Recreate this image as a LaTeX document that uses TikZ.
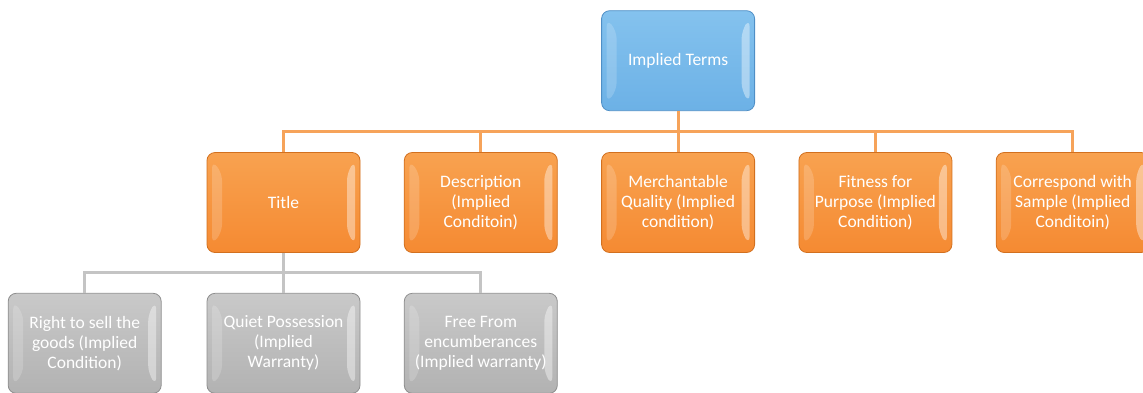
\documentclass[tikz,border=0pt]{standalone}
\usepackage{fontspec}
\setmainfont{Carlito}
\usepackage{tikz}
\usetikzlibrary{positioning,calc}
\definecolor{termBlue}{HTML}{6CB1E6}
\definecolor{termBlueTop}{HTML}{84C2EE}
\definecolor{termBlueEdge}{HTML}{4F8FC6}
\definecolor{termOrange}{HTML}{F58A32}
\definecolor{termOrangeTop}{HTML}{F8A250}
\definecolor{termOrangeEdge}{HTML}{D2701F}
\definecolor{termGrey}{HTML}{B2B2B2}
\definecolor{termGreyTop}{HTML}{C9C9C9}
\definecolor{termGreyEdge}{HTML}{8E8E8E}
\definecolor{busOrange}{HTML}{F6A35A}
\definecolor{busGrey}{HTML}{C4C4C4}
\tikzset{
  bevel/.style={rounded corners=8pt, line width=0.8pt, minimum width=153pt, minimum height=100pt,
    inner sep=2pt, align=center, text=white, font=\fontsize{17.5}{20}\selectfont,
    path picture={
      \fill[white, opacity=.18] ($(path picture bounding box.north west)+(5,-8)$)
        -- ++(10,-12) -- ($(path picture bounding box.south west)+(15,20)$)
        -- ++(-10,-12) -- cycle;
      \fill[white, opacity=.4] ($(path picture bounding box.north east)+(-5,-8)$)
        -- ++(-8,-12) -- ($(path picture bounding box.south east)+(-13,20)$)
        -- ++(8,-12) -- cycle;
    }},
  bluebox/.style={bevel, draw=termBlueEdge, top color=termBlueTop, bottom color=termBlue},
  orangebox/.style={bevel, draw=termOrangeEdge, top color=termOrangeTop, bottom color=termOrange},
  greybox/.style={bevel, draw=termGreyEdge, top color=termGreyTop, bottom color=termGrey},
  obus/.style={draw=busOrange, line width=3pt},
  gbus/.style={draw=busGrey, line width=3pt},
}
\begin{document}
\begin{tikzpicture}[x=1pt, y=1pt, node distance=43.5pt]
\useasboundingbox (0,0) rectangle (1143,-392);
% second level
\node[orangebox] (title) at (283.5,-202.5) {Title};
\node[orangebox, right=of title] (desc) {Description\\(Implied\\Conditoin)};
\node[orangebox, right=of desc] (merch) {Merchantable\\Quality (Implied\\condition)};
\node[orangebox, right=of merch] (fit) {Fitness for\\Purpose (Implied\\Condition)};
\node[orangebox, right=of fit] (sample) {Correspond with\\Sample (Implied\\Conditoin)};
% root
\node[bluebox, above=41pt of merch] (terms) {Implied Terms};
% third level
\node[greybox, below=40pt of title] (quiet) {Quiet Possession\\(Implied\\Warranty)};
\node[greybox, left=45pt of quiet] (sell) {Right to sell the\\goods (Implied\\Condition)};
\node[greybox, right=of quiet] (free) {Free From\\encumberances\\(Implied warranty)};
% connectors
\foreach \n in {title,desc,merch,fit,sample}
  \draw[obus] (terms.south) -- ++(0,-20) -| (\n.north);
\foreach \n in {sell,quiet,free}
  \draw[gbus] (title.south) -- ++(0,-20) -| (\n.north);
\end{tikzpicture}
\end{document}
